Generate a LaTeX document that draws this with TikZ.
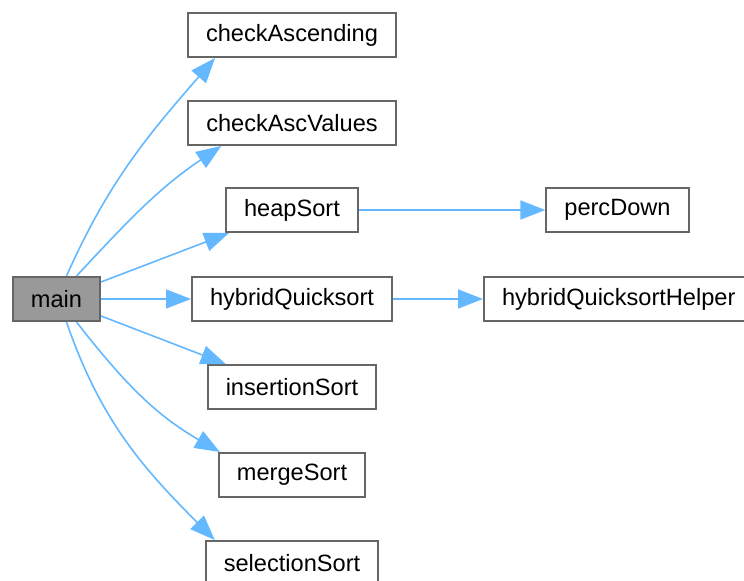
\documentclass[tikz,border=0pt]{standalone}
\usepackage{fontspec}
\setmainfont{Liberation Sans}
\usetikzlibrary{arrows.meta}
\definecolor{edgeblue}{HTML}{63B8FF}
\definecolor{boxgray}{HTML}{666666}
\definecolor{maingray}{HTML}{999999}
\begin{document}
\begin{tikzpicture}[x=0.5pt, y=-0.5pt,
    fn/.style={draw=boxgray, line width=1pt, fill=white, inner xsep=9pt,
        minimum height=22pt, font=\fontsize{11.8}{14}\selectfont},
    call/.style={edgeblue, line width=0.8pt, -{Triangle[length=12.5pt, width=9.5pt]}}]
    \useasboundingbox (0, 0) rectangle (744, 581);

    % 调用者
    \node[fn, fill=maingray] (main) at (56.5, 299) {main};

    % 被调用的函数
    \node[fn] (checkAscending) at (292, 35) {checkAscending};
    \node[fn] (checkAscValues) at (292, 123) {checkAscValues};
    \node[fn] (heapSort) at (292, 210) {heapSort};
    \node[fn] (hybridQuicksort) at (292, 299) {hybridQuicksort};
    \node[fn] (insertionSort) at (292, 387) {insertionSort};
    \node[fn] (mergeSort) at (292, 475) {mergeSort};
    \node[fn] (selectionSort) at (292, 563) {selectionSort};
    \node[fn] (percDown) at (617.5, 210) {percDown};
    \node[fn, anchor=west] (hybridQuicksortHelper) at (483, 299) {hybridQuicksortHelper};

    % 调用关系
    \draw[call] ([xshift=5pt]main.north) to[out=66, in=229] ([xshift=14pt]checkAscending.south west);
    \draw[call] ([xshift=10pt]main.north) to[out=47, in=214] ([xshift=17pt]checkAscValues.south west);
    \draw[call] ([yshift=8.5pt]main.east) -- ([xshift=2pt]heapSort.south west);
    \draw[call] (main.east) -- (hybridQuicksort.west);
    \draw[call] ([yshift=-8.5pt]main.east) -- ([xshift=9.5pt]insertionSort.north west);
    \draw[call] ([xshift=10pt]main.south) to[out=-52, in=150] ([xshift=1pt]mergeSort.north west);
    \draw[call] ([xshift=5pt]main.south) to[out=-71, in=135] ([xshift=5pt]selectionSort.north west);
    \draw[call] (heapSort.east) -- (percDown.west);
    \draw[call] (hybridQuicksort.east) -- (hybridQuicksortHelper.west);
\end{tikzpicture}
\end{document}
